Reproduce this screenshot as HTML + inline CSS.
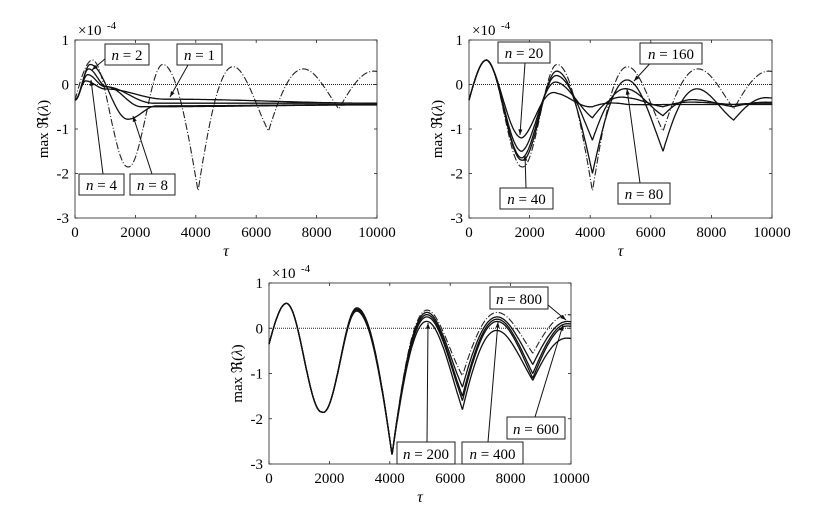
<!DOCTYPE html>
<html><head><meta charset="utf-8"><style>
html,body{margin:0;padding:0;background:#fff;}
svg{display:block;font-family:"Liberation Serif",serif;}
</style></head><body>
<svg id="s" width="826" height="510" viewBox="0 0 826 510" xmlns="http://www.w3.org/2000/svg"></svg>
<script>
const S=document.getElementById('s');let h='';
const T0=580,PER=2330;
function osc(pk,tr){return t=>{
  if(t<T0){return -0.35+(pk[0]+0.35)*Math.sin(t/T0*Math.PI/2);}
  const u=(t-T0)/PER;
  const ip=(a,x)=>{if(x<=0)return a[0];if(x>=a.length-1)return a[a.length-1];const i=Math.floor(x),f=x-i;return a[i]+f*(a[i+1]-a[i]);};
  const P=ip(pk,u),Tr=ip(tr,u-0.5);
  const ph=u*Math.PI;let c=Math.abs(Math.cos(ph));
  if(t<T0+PER)c=c*c;
  return Tr+(P-Tr)*c;};}
const ref=osc([.55,.45,.4,.35,.3],[-1.85,-2.4,-1.05,-.55]);
const ref3=osc([.55,.45,.4,.35,.3],[-1.85,-2.8,-1.05,-.55]);
function kp(pts){return t=>{for(let i=0;i<pts.length-1;i++){const[a,va]=pts[i],[b,vb]=pts[i+1];if(t>=a&&t<=b){const f=(t-a)/(b-a);return va+(vb-va)*(1-Math.cos(f*Math.PI))/2;}}return pts[pts.length-1][1];};}
function panel(x0,x1,y0,y1,rf,curves,labels){
  const X=t=>x0+(x1-x0)*t/10000, Y=v=>y0+(y1-y0)*(1-v)/4;
  h+=`<rect x="${x0}" y="${y0}" width="${x1-x0}" height="${y1-y0}" fill="none" stroke="#222" stroke-width="0.8"/>`;
  for(let v=-3;v<=1;v++){const y=Y(v);h+=`<line x1="${x0}" x2="${x0+3}" y1="${y}" y2="${y}" stroke="#222" stroke-width=".8"/><line x1="${x1-3}" x2="${x1}" y1="${y}" y2="${y}" stroke="#222" stroke-width=".8"/><text x="${x0-6}" y="${y+5}" font-size="15" text-anchor="end">${v<0?'-'+(-v):v}</text>`;}
  for(let t=0;t<=10000;t+=2000){const x=X(t);h+=`<line x1="${x}" x2="${x}" y1="${y1}" y2="${y1-3}" stroke="#222" stroke-width=".8"/><line x1="${x}" x2="${x}" y1="${y0}" y2="${y0+3}" stroke="#222" stroke-width=".8"/><text x="${x}" y="${y1+19}" font-size="15" text-anchor="middle">${t}</text>`;}
  h+=`<text x="${(x0+x1)/2}" y="${y1+38}" font-size="16" font-style="italic" text-anchor="middle">τ</text>`;
  h+=`<text x="${x0+3}" y="${y0-5}" font-size="15">×10</text><text x="${x0+32}" y="${y0-11}" font-size="11">-4</text>`;
  const cy=(y0+y1)/2;
  h+=`<text transform="translate(${x0-27},${cy}) rotate(-90)" font-size="15" text-anchor="middle">max ℜ(<tspan font-style="italic">λ</tspan>)</text>`;
  h+=`<line x1="${x0}" x2="${x1}" y1="${Y(0)}" y2="${Y(0)}" stroke="#222" stroke-width="1" stroke-dasharray="1,1"/>`;
  let d='';for(let t=0;t<=10000;t+=10){d+=(t?'L':'M')+X(t).toFixed(1)+' '+Y(rf(t)).toFixed(1);}
  h+=`<path d="${d}" fill="none" stroke="#222" stroke-width="1.1" stroke-dasharray="7,2,1,2"/>`;
  curves.forEach(f=>{let d='';for(let t=0;t<=10000;t+=10){d+=(t?'L':'M')+X(t).toFixed(1)+' '+Y(f(t)).toFixed(1);}h+=`<path d="${d}" fill="none" stroke="#111" stroke-width="1.3"/>`;});
  labels.forEach(l=>{const [bx,by,bw,bh,txt,ax,ay,tx,ty]=l;
    h+=`<line x1="${ax}" y1="${ay}" x2="${tx}" y2="${ty}" stroke="#111" stroke-width="1"/>`;
    const a=Math.atan2(ty-ay,tx-ax),L=6;
    h+=`<polygon points="${tx},${ty} ${tx-L*Math.cos(a-0.35)},${ty-L*Math.sin(a-0.35)} ${tx-L*Math.cos(a+0.35)},${ty-L*Math.sin(a+0.35)}" fill="#111"/>`;
    h+=`<rect x="${bx}" y="${by}" width="${bw}" height="${bh}" fill="#fff" stroke="#222" stroke-width="1"/>`;
    h+=`<text x="${bx+bw/2}" y="${by+bh-5}" font-size="15" text-anchor="middle"><tspan font-style="italic">n</tspan> = ${txt}</text>`;});
}
panel(75,377,40,218,ref,[
 kp([[0,-.35],[350,.08],[1000,-.1],[3000,-.33],[10000,-.42]]),
 kp([[0,-.35],[420,.22],[1000,-.05],[2600,-.42],[10000,-.42]]),
 kp([[0,-.35],[450,.35],[1050,-.05],[2200,-.5],[10000,-.46]]),
 kp([[0,-.35],[500,.45],[1750,-.78],[2700,-.48],[10000,-.45]])],[
 [105,44,44,21,'2',106,58,92,70],[177,44,45,21,'1',188,65,170,97],
 [79,174,45,21,'4',103,174,91,80],[130,174,45,21,'8',152,174,133,116]]);
panel(469,772,40,218,ref,[
 osc([.55,-.2,-.45,-.45,-.45],[-1.2,-.5,-.45,-.45]),
 osc([.55,.05,-.3,-.4,-.42],[-1.5,-.75,-.5,-.45]),
 osc([.55,.2,-.1,-.35,-.4],[-1.65,-1.25,-.7,-.5]),
 osc([.55,.3,.1,-.1,-.3],[-1.7,-2.0,-1.5,-.8])],[
 [498,42,52,21,'20',525,63,520,135],[640,43,62,21,'160',655,58,634,81],
 [500,188,53,21,'40',526,188,525,155],[618,183,52,21,'80',640,183,627,89]]);
panel(269,571,283,464,ref3,[
 osc([.55,.45,.35,.25,.15],[-1.85,-2.8,-1.3,-.8]),
 osc([.55,.42,.3,.2,.1],[-1.85,-2.8,-1.5,-1.0]),
 osc([.55,.4,.25,.15,.05],[-1.85,-2.8,-1.6,-1.1]),
 osc([.55,.38,.15,-.05,-.22],[-1.85,-2.8,-1.8,-1.15])],[
 [490,287,58,22,'800',548,305,566,320],[507,417,58,22,'600',535,417,563,325],
 [397,442,58,22,'200',427,442,428,323],[462,442,61,22,'400',488,442,498,322]]);
S.innerHTML=h;
</script>
</body></html>
